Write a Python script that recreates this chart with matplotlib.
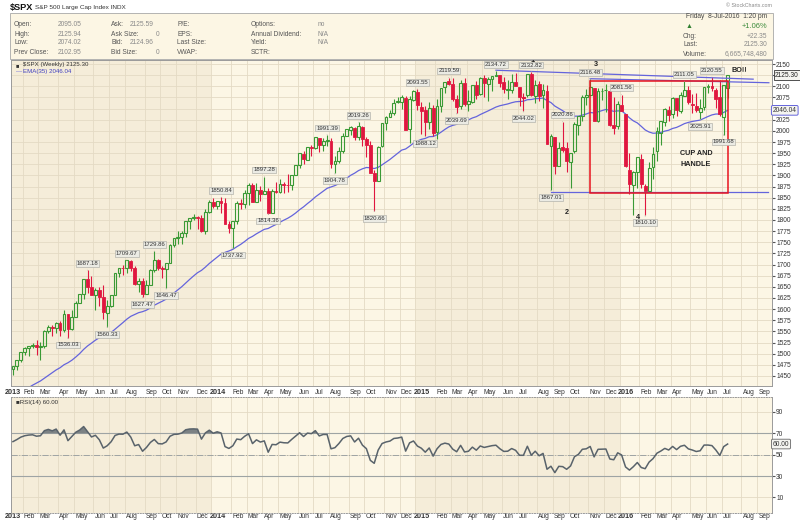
import numpy as np
import pandas as pd
import matplotlib
matplotlib.use("Agg")
import matplotlib.pyplot as plt
import matplotlib.transforms as mtransforms
from matplotlib.patches import Rectangle

plt.rcParams["font.family"] = ["Liberation Sans", "DejaVu Sans"]

# ===============================
# weekly data ($SPX, weeks ending on Friday, 2013-01-11 .. 2016-07-08)
# ===============================
open_2013 = [1466.5, 1472.1, 1486.0, 1503.0, 1513.2, 1517.9, 1519.8, 1515.6, 1518.2, 1551.2,
             1560.7, 1556.9, 1569.2, 1553.3, 1588.9, 1555.3, 1582.2, 1614.4, 1633.7, 1667.5,
             1649.6, 1630.7, 1643.4, 1626.7, 1592.4, 1606.3, 1631.9, 1680.2, 1692.1, 1691.7,
             1708.0, 1691.4, 1655.8, 1663.5, 1633.0, 1655.2, 1688.0, 1709.9, 1691.8, 1690.5,
             1703.2, 1744.5, 1759.8, 1761.6, 1770.6, 1798.2, 1804.8, 1805.8, 1805.1, 1775.3,
             1818.3]
high_2013 = [1472.8, 1486.0, 1503.3, 1514.4, 1518.3, 1524.7, 1530.9, 1525.8, 1552.5, 1563.3,
             1564.1, 1570.3, 1573.7, 1597.4, 1588.9, 1597.6, 1618.5, 1635.0, 1667.5, 1687.18,
             1674.2, 1646.5, 1648.7, 1654.2, 1620.1, 1632.1, 1680.2, 1693.1, 1698.4, 1709.67,
             1709.2, 1696.8, 1669.5, 1669.7, 1664.8, 1690.0, 1729.86, 1711.4, 1696.6, 1703.4,
             1745.3, 1759.8, 1775.2, 1774.5, 1798.2, 1804.8, 1813.6, 1808.4, 1811.5, 1823.8,
             1844.9]
low_2013 = [1451.6, 1463.8, 1482.1, 1496.3, 1495.0, 1513.6, 1497.3, 1485.0, 1513.0, 1547.4,
            1538.6, 1546.2, 1539.5, 1548.6, 1536.03, 1553.6, 1581.3, 1614.4, 1623.7, 1635.5,
            1630.7, 1598.2, 1608.1, 1577.7, 1560.33, 1604.6, 1631.9, 1672.1, 1676.0, 1681.9,
            1684.9, 1654.2, 1639.4, 1627.47, 1633.4, 1655.2, 1684.1, 1687.1, 1670.4, 1646.47,
            1703.2, 1740.5, 1746.5, 1746.2, 1761.6, 1780.7, 1800.4, 1779.1, 1772.3, 1768.0,
            1815.5]
close_2013 = [1472.05, 1485.98, 1502.96, 1513.17, 1517.93, 1519.79, 1515.60, 1518.20, 1551.18, 1560.70,
              1556.89, 1569.19, 1553.28, 1588.85, 1555.25, 1582.24, 1614.42, 1633.70, 1667.47, 1649.60,
              1630.74, 1643.38, 1626.73, 1592.43, 1606.28, 1631.89, 1680.19, 1692.09, 1691.65, 1709.67,
              1691.42, 1655.83, 1663.50, 1632.97, 1655.17, 1687.99, 1709.91, 1691.75, 1690.50, 1703.20,
              1744.50, 1759.77, 1761.64, 1770.61, 1798.18, 1804.76, 1805.81, 1805.09, 1775.32, 1818.32,
              1841.40]

open_2014 = [1841.4, 1831.4, 1842.3, 1838.7, 1790.9, 1782.7, 1798.0, 1838.2, 1836.8, 1859.5,
             1878.5, 1841.1, 1866.5, 1857.7, 1865.1, 1816.3, 1863.9, 1863.6, 1880.0, 1877.9,
             1878.0, 1900.9, 1923.9, 1948.9, 1935.6, 1962.9, 1960.9, 1984.2, 1967.7, 1978.0,
             1978.3, 1926.3, 1932.0, 1955.7, 1989.0, 2002.6, 2007.2, 1986.8, 2009.1, 1981.9,
             1967.7, 1905.7, 1887.3, 1965.0, 2018.2, 2032.1, 2039.7, 2064.0, 2065.8, 2074.8,
             2005.0, 2069.3]
high_2014 = [1849.4, 1843.2, 1850.84, 1849.3, 1798.8, 1798.0, 1841.7, 1847.5, 1867.9, 1883.6,
             1882.4, 1884.0, 1875.9, 1897.28, 1872.5, 1869.6, 1884.9, 1891.3, 1886.0, 1902.2,
             1901.3, 1924.0, 1949.4, 1955.6, 1963.9, 1968.2, 1985.6, 1984.9, 1983.9, 1991.39,
             1984.4, 1942.9, 1964.0, 1994.8, 2005.0, 2011.2, 2008.0, 2019.26, 2010.4, 1985.2,
             1977.8, 1912.1, 1965.3, 2018.2, 2034.3, 2046.2, 2071.5, 2075.8, 2079.5, 2077.9,
             2077.9, 2092.7]
low_2014 = [1827.7, 1823.7, 1815.8, 1790.0, 1770.5, 1737.92, 1791.8, 1824.6, 1828.0, 1834.4,
            1839.6, 1839.5, 1842.1, 1857.6, 1814.36, 1815.7, 1859.7, 1859.8, 1859.8, 1862.4,
            1868.1, 1900.5, 1916.0, 1925.8, 1933.6, 1944.7, 1958.2, 1952.9, 1955.6, 1965.8,
            1916.4, 1904.78, 1928.3, 1951.0, 1988.4, 1990.1, 1980.3, 1978.5, 1966.0, 1941.7,
            1906.1, 1820.66, 1886.8, 1964.0, 2001.0, 2030.2, 2034.5, 2062.0, 2049.6, 2001.5,
            1972.6, 2067.0]
close_2014 = [1831.37, 1842.37, 1838.70, 1790.29, 1782.59, 1797.02, 1838.63, 1836.25, 1859.45, 1878.04,
              1841.13, 1866.52, 1857.62, 1865.09, 1815.69, 1864.85, 1863.40, 1881.14, 1878.48, 1877.86,
              1900.53, 1923.57, 1949.44, 1936.16, 1962.87, 1960.96, 1985.44, 1967.57, 1978.22, 1978.34,
              1925.15, 1931.59, 1955.06, 1988.40, 2003.37, 2007.71, 1985.54, 2010.40, 1982.85, 1967.90,
              1906.13, 1886.76, 1964.58, 2018.05, 2031.92, 2039.82, 2063.50, 2067.56, 2075.37, 2002.33,
              2070.65, 2088.77]

open_2015 = [2087.6, 2054.4, 2046.1, 2020.8, 2050.4, 1996.7, 2055.3, 2097.7, 2110.9, 2105.2,
             2072.3, 2055.4, 2107.0, 2060.0, 2064.9, 2102.6, 2082.0, 2119.3, 2105.9, 2115.6,
             2122.3, 2125.3, 2110.7, 2092.3, 2091.3, 2109.6, 2098.6, 2073.0, 2080.0, 2126.8,
             2078.0, 2104.5, 2080.0, 2089.6, 1965.2, 1986.7, 1921.0, 1963.1, 1960.8, 1930.9,
             1954.3, 2013.4, 2033.5, 2075.4, 2080.8, 2096.6, 2022.4, 2089.4, 2091.0, 2090.4,
             2013.4, 2010.3, 2057.8]
high_2015 = [2093.55, 2064.4, 2056.9, 2064.6, 2057.6, 2072.4, 2097.0, 2110.6, 2119.59, 2117.5,
             2081.4, 2114.9, 2117.5, 2091.0, 2102.6, 2111.9, 2120.9, 2125.9, 2121.0, 2123.9,
             2134.72, 2126.2, 2121.9, 2115.0, 2126.7, 2130.0, 2098.6, 2085.7, 2128.0, 2132.82,
             2114.2, 2112.7, 2105.4, 2102.7, 1993.5, 1986.7, 1975.0, 2020.86, 1974.8, 1951.4,
             2020.1, 2033.5, 2079.7, 2094.3, 2116.48, 2096.6, 2097.1, 2095.6, 2104.3, 2090.4,
             2076.7, 2067.7, 2081.56]
low_2015 = [2046.0, 1992.4, 1988.12, 2004.5, 1989.2, 1980.9, 2041.9, 2085.7, 2103.0, 2067.3,
            2039.69, 2050.1, 2055.2, 2045.5, 2062.0, 2072.0, 2081.2, 2077.0, 2067.9, 2089.2,
            2122.3, 2099.2, 2085.7, 2072.1, 2084.7, 2101.0, 2056.6, 2044.02, 2076.6, 2077.9,
            2063.5, 2067.9, 2052.1, 1970.0, 1867.01, 1903.1, 1921.0, 1953.0, 1908.8, 1871.9,
            1951.4, 1990.7, 2022.3, 2058.8, 2080.8, 2022.0, 2019.4, 2070.3, 2042.4, 2011.0,
            1993.3, 2005.0, 2043.6]
close_2015 = [2058.20, 2044.81, 2019.42, 2051.82, 1994.99, 2055.47, 2096.99, 2110.30, 2104.50, 2071.26,
              2053.40, 2108.10, 2061.02, 2066.96, 2102.06, 2081.18, 2117.69, 2108.29, 2116.10, 2122.73,
              2126.06, 2107.39, 2092.83, 2094.11, 2109.99, 2101.49, 2076.78, 2076.62, 2126.64, 2079.65,
              2103.84, 2077.57, 2091.54, 1970.89, 1988.87, 1921.22, 1961.05, 1958.08, 1931.34, 1951.36,
              2014.89, 2033.11, 2075.15, 2079.36, 2099.20, 2023.04, 2089.17, 2090.11, 2091.69, 2012.37,
              2005.55, 2060.99, 2043.94]

open_2016 = [2038.2, 1911.9, 1878.9, 1906.7, 1936.9, 1877.1, 1866.0, 1917.8, 1954.9, 1996.1,
             2019.6, 2047.9, 2037.9, 2073.2, 2044.7, 2078.8, 2092.3, 2060.4, 2055.2, 2041.9,
             2054.5, 2100.0, 2100.8, 2091.8, 2075.6, 2030.0, 2095.05]
high_2016 = [2038.2, 1950.3, 1908.9, 1940.24, 1947.2, 1881.6, 1930.7, 1962.96, 2009.1, 2022.4,
             2052.4, 2056.6, 2075.1, 2074.0, 2087.8, 2111.05, 2099.9, 2083.4, 2084.9, 2071.9,
             2099.1, 2105.3, 2120.55, 2096.1, 2113.3, 2103.5, 2125.94]
low_2016 = [1918.5, 1857.8, 1812.3, 1872.7, 1872.7, 1810.10, 1864.8, 1891.0, 1931.8, 1969.3,
            2010.1, 2022.1, 2028.9, 2033.8, 2039.7, 2078.8, 2060.6, 2039.5, 2043.1, 2025.91,
            2047.3, 2085.4, 2090.0, 2050.4, 2032.6, 1991.68, 2074.02]
close_2016 = [1922.03, 1880.33, 1906.90, 1940.24, 1880.05, 1864.78, 1917.78, 1948.05, 1999.99, 2022.19,
              2049.58, 2035.94, 2072.78, 2047.60, 2080.73, 2091.58, 2065.30, 2057.14, 2046.61, 2052.32,
              2099.06, 2099.13, 2096.07, 2071.22, 2037.41, 2102.95, 2125.30]

# 2012 weekly closes, only used to warm up EMA / RSI (not drawn)
warmup_close = [1277.81, 1289.09, 1315.38, 1316.33, 1344.90, 1342.64, 1361.23, 1365.74, 1369.63, 1370.87,
                1404.17, 1397.11, 1408.47, 1398.08, 1370.26, 1378.53, 1403.36, 1369.10, 1353.39, 1295.22,
                1317.82, 1278.04, 1325.66, 1342.84, 1335.02, 1362.16, 1354.68, 1356.78, 1362.66, 1385.97,
                1390.99, 1405.87, 1418.16, 1411.13, 1406.58, 1437.92, 1465.77, 1460.15, 1440.67, 1460.93,
                1428.59, 1433.19, 1411.94, 1414.20, 1379.85, 1359.88, 1409.15, 1416.18, 1418.07, 1413.58,
                1430.15, 1402.43, 1466.47]

# labelled swing highs / lows
peak_labels = [1687.18, 1709.67, 1729.86, 1850.84, 1897.28, 1991.39, 2019.26, 2093.55, 2119.59,
               2134.72, 2132.82, 2020.86, 2116.48, 2081.56, 2111.05, 2120.55]
trough_labels = [1536.03, 1560.33, 1627.47, 1646.47, 1737.92, 1814.36, 1904.78, 1820.66, 1988.12,
                 2039.69, 2044.02, 1867.01, 1810.10, 2025.91, 1991.68]

price_ticks = list(range(1450, 2151, 25))
hidden_price_labels = [2125, 2050]   # covered by the last-value boxes
rsi_ticks = [10, 30, 50, 70, 90]

o = np.array(open_2013 + open_2014 + open_2015 + open_2016)
h = np.array(high_2013 + high_2014 + high_2015 + high_2016)
l = np.array(low_2013 + low_2014 + low_2015 + low_2016)
c = np.array(close_2013 + close_2014 + close_2015 + close_2016)
n = len(c)
x = np.arange(n)

# ===============================
# indicators
# ===============================
full = pd.Series(warmup_close + list(c))
ema = full.ewm(span=35, adjust=False).mean().values[-n:]
diff = full.diff()
gain = diff.clip(lower=0).ewm(alpha=1 / 14, adjust=False).mean()
loss = (-diff).clip(lower=0).ewm(alpha=1 / 14, adjust=False).mean()
rsi = (100 - 100 / (1 + gain / loss)).values[-n:]

# ===============================
# colours
# ===============================
BG_DARK = "#f5edd9"
BG_LIGHT = "#fcf6e5"
GRID = "#e4dac4"
GREEN = "#3a9a35"
RED = "#e0163f"
BLUE = "#6464dc"
TXT = "#333333"

W, H = 800, 523
fig = plt.figure(figsize=(W / 100, H / 100), dpi=100)
fig.patch.set_facecolor("white")


def fx(px):
    return px / W


def fy(py):
    return 1 - py / H


ax = fig.add_axes([fx(11), fy(386), fx(772) - fx(11), fy(60) - fy(386)])
ax2 = fig.add_axes([fx(11), fy(513), fx(772) - fx(11), fy(397) - fy(513)])

XMIN, XMAX = -0.5, 193.3
for a in (ax, ax2):
    a.set_xlim(XMIN, XMAX)
    a.set_facecolor(BG_LIGHT)
    for s in a.spines.values():
        s.set_color("#9a9a9a")
        s.set_linewidth(0.7)
ax.set_ylim(1427.5, 2159)
ax2.set_ylim(-4.5, 104)

# ===============================
# month grid / year shading / date labels
# ===============================
all_fri = pd.date_range("2013-01-04", "2016-09-30", freq="W-FRI")
idx_all = np.arange(len(all_fri)) - 1
month_start = [k for k in range(len(all_fri)) if k == 0 or all_fri[k].month != all_fri[k - 1].month]
year_bounds = []
tr = mtransforms.blended_transform_factory(ax.transData, fig.transFigure)
for k in month_start:
    xi = idx_all[k]
    d = all_fri[k]
    for a in (ax, ax2):
        a.axvline(xi - 0.5, color=GRID, lw=0.6, zorder=0)
    if d.month == 1:
        year_bounds.append((xi - 0.5, d.year))
        lab, fw, dx = str(d.year), "bold", -1.0
    else:
        lab, fw, dx = d.strftime("%b"), "normal", -0.2
    for py in (393, 517):
        ax.text(xi + dx, fy(py), lab, transform=tr, fontsize=5.2 if fw == "bold" else 4.8,
                fontweight=fw, color=TXT, ha="left", va="center", clip_on=False)
year_bounds.append((XMAX + 5, 2017))
for (x0, yr), (x1, _) in zip(year_bounds[:-1], year_bounds[1:]):
    if yr % 2 == 1:
        for a in (ax, ax2):
            a.axvspan(max(x0, XMIN - 1), x1, color=BG_DARK, lw=0, zorder=-1)

for p in price_ticks:
    ax.axhline(p, color=GRID, lw=0.6, zorder=0)
for r in rsi_ticks:
    ax2.axhline(r, color=GRID, lw=0.6, zorder=0)

# ===============================
# candles
# ===============================
prev = np.r_[warmup_close[-1], c[:-1]]
col = np.where(c >= prev, GREEN, RED)
body_lo = np.minimum(o, c)
body_hi = np.maximum(o, c)
body_h = np.maximum(body_hi - body_lo, 1.0)
ax.vlines(x, body_hi, h, colors=col, lw=0.8, zorder=3)
ax.vlines(x, l, body_lo, colors=col, lw=0.8, zorder=3)
filled = c < o
ax.bar(x[filled], body_h[filled], bottom=body_lo[filled], width=0.72,
       color=col[filled], edgecolor=col[filled], linewidth=0.6, zorder=4)
ax.bar(x[~filled], body_h[~filled], bottom=body_lo[~filled], width=0.72,
       facecolor="none", edgecolor=col[~filled], linewidth=0.8, zorder=4)

ax.plot(x, ema, color=BLUE, lw=0.9, zorder=2)

# swing labels
bbox_lab = dict(boxstyle="square,pad=0.15", fc="#ebebe4", ec="#b4b4ac", lw=0.5)
for v in peak_labels:
    i = int(np.argmin(np.abs(h - v)))
    ax.annotate(f"{v:.2f}", xy=(i, h[i]), xytext=(0, 3), textcoords="offset points",
                ha="center", va="bottom", fontsize=4.3, color="#333", bbox=bbox_lab,
                arrowprops=dict(arrowstyle="-", color="#b4b4ac", lw=0.5), zorder=6)
for v in trough_labels:
    i = int(np.argmin(np.abs(l - v)))
    ax.annotate(f"{v:.2f}", xy=(i, l[i]), xytext=(0, -3.5), textcoords="offset points",
                ha="center", va="top", fontsize=4.3, color="#333", bbox=bbox_lab,
                arrowprops=dict(arrowstyle="-", color="#b4b4ac", lw=0.5), zorder=6)

# trend lines, pattern box and notes
ax.plot([123, 188.5], [2136.0, 2116.0], color=BLUE, lw=0.9, zorder=5)
ax.plot([147, 192.5], [2117.0, 2108.0], color=BLUE, lw=0.9, zorder=5)
ax.plot([137, 192.3], [1863.0, 1863.0], color=BLUE, lw=0.9, zorder=5)
ax.add_patch(Rectangle((147.0, 1860.0), 182.0 - 147.0, 2112.5 - 1860.0, fill=False,
                       ec="#e8141e", lw=1.1, zorder=5))
note_kw = dict(fontsize=5.2, fontweight="bold", color="#222", zorder=7)
ax.text(132.4, 2158, "1", ha="center", va="center", clip_on=True, **note_kw)
ax.text(141.1, 1815.7, "2", ha="center", va="center", **note_kw)
ax.text(148.5, 2147.8, "3", ha="center", va="center", **note_kw)
ax.text(159.2, 1804.5, "4", ha="center", va="center", **note_kw)
ax.text(169.9, 1950.3, "CUP AND", ha="left", va="center", **note_kw)
ax.text(169.9, 1925.6, "HANDLE", ha="left", va="center", **note_kw)
ax.text(183.1, 2136.5, "BO!!", ha="left", va="center", **note_kw)

# price axis
ax.set_yticks(price_ticks)
ax.set_yticklabels(["" if p in hidden_price_labels else str(p) for p in price_ticks])
ax.yaxis.tick_right()
ax.tick_params(axis="y", labelsize=4.8, length=2, pad=1, colors="#555", labelcolor=TXT)
ax.set_xticks([])
ax.text(1.004, c[-1], f"{c[-1]:.2f}", transform=ax.get_yaxis_transform(), fontsize=4.8,
        ha="left", va="center", color="#222",
        bbox=dict(boxstyle="square,pad=0.2", fc="#f4f4f0", ec="#333", lw=0.6), zorder=8)
ax.text(1.001, ema[-1], f"{ema[-1]:.2f}", transform=ax.get_yaxis_transform(), fontsize=4.8,
        ha="left", va="center", color="#333",
        bbox=dict(boxstyle="round,pad=0.2", fc="#f4f4f0", ec=BLUE, lw=0.7), zorder=8)

# legend text
ax.text(0.006, 0.992, "\u25a0", transform=ax.transAxes, fontsize=4, color="#333", va="top")
ax.text(0.016, 0.993, f"\\$SPX (Weekly) {c[-1]:.2f}", transform=ax.transAxes, fontsize=4.4,
        color="#333", va="top")
ax.text(0.006, 0.972, "\u2014", transform=ax.transAxes, fontsize=4.4, color=BLUE, va="top")
ax.text(0.016, 0.972, f"EMA(35) {ema[-1]:.2f}", transform=ax.transAxes, fontsize=4.4,
        color="#4040c0", va="top")

# ===============================
# RSI panel
# ===============================
ax2.axhline(70, color="#9ea4a4", lw=0.8, zorder=1)
ax2.axhline(30, color="#9ea4a4", lw=0.8, zorder=1)
ax2.axhline(50, color="#9ea4a4", lw=0.7, ls="-.", zorder=1)
ax2.plot(x, rsi, color="#59636b", lw=1.1, zorder=3)
ax2.fill_between(x, rsi, 70, where=rsi > 70, interpolate=True, color="#7c8284", lw=0, zorder=2)
ax2.fill_between(x, rsi, 30, where=rsi < 30, interpolate=True, color="#7c8284", lw=0, zorder=2)
ax2.set_yticks(rsi_ticks)
ax2.yaxis.tick_right()
ax2.tick_params(axis="y", labelsize=4.8, length=2, pad=1, colors="#555", labelcolor=TXT)
ax2.set_xticks([])
for s in ("top", "bottom"):
    ax2.spines[s].set_linestyle(":")
ax2.text(1.001, rsi[-1], f"{rsi[-1]:.2f}", transform=ax2.get_yaxis_transform(), fontsize=4.8,
         ha="left", va="center", color="#333",
         bbox=dict(boxstyle="round,pad=0.2", fc="#f4f4f0", ec="#666", lw=0.6), zorder=8)
ax2.text(0.006, 0.975, f"\u25a0RSI(14) {rsi[-1]:.2f}", transform=ax2.transAxes, fontsize=4.4,
         color="#333", va="top")

# ===============================
# header
# ===============================
fig.patches.append(Rectangle((fx(10), fy(59)), fx(773) - fx(10), fy(13) - fy(59),
                             transform=fig.transFigure, fc="#fcf6e4", ec="#a8a8a8", lw=0.6))
fig.text(fx(10), fy(7.5), "\\$SPX", fontsize=6.6, fontweight="bold", color="#111", va="center")
fig.text(fx(35), fy(8), "S&P 500 Large Cap Index INDX", fontsize=4.6, color="#333", va="center")
fig.text(fx(772), fy(5.5), "\u00a9 StockCharts.com", fontsize=3.8, color="#888", ha="right",
         va="center")

LAB = "#555555"
VAL = "#8a8a8a"
rows = [25, 34, 43, 52]
hdr = [
    (14, "Open:", 58, "2095.05"), (14, "High:", 58, "2125.94"),
    (14, "Low:", 58, "2074.02"), (14, "Prev Close:", 58, "2102.95"),
    (111, "Ask:", 130, "2125.59"), (111, "Ask Size:", 156, "0"),
    (111, "Bid:", 130, "2124.96"), (111, "Bid Size:", 156, "0"),
    (177, "P/E:", None, ""), (177, "EPS:", None, ""),
    (177, "Last Size:", None, ""), (177, "VWAP:", None, ""),
    (251, "Options:", 318, "no"), (251, "Annual Dividend:", 318, "N/A"),
    (251, "Yield:", 318, "N/A"), (251, "SCTR:", None, ""),
]
for k, (x0, t0, x1, t1) in enumerate(hdr):
    yy = fy(rows[k % 4])
    fig.text(fx(x0), yy, t0, fontsize=4.8, color=LAB, va="center")
    if x1 is not None:
        fig.text(fx(x1), yy, t1, fontsize=4.8, color=VAL, va="center")

fig.text(fx(767), fy(17), "Friday  8-Jul-2016  1:20 pm", fontsize=4.8, color="#444",
         ha="right", va="center")
fig.text(fx(689), fy(26), "\u25b2", fontsize=5, color="#2f7f2f", ha="center", va="center")
fig.text(fx(767), fy(26.5), "+1.06%", fontsize=5.4, color="#3a8a3a", ha="right", va="center")
for yy, t0, t1 in [(36, "Chg:", "+22.35"), (45, "Last:", "2125.30"),
                   (54, "Volume:", "6,665,748,480")]:
    fig.text(fx(683), fy(yy), t0, fontsize=4.8, color=LAB, va="center")
    fig.text(fx(767), fy(yy), t1, fontsize=4.8, color=VAL, ha="right", va="center")

fig.savefig("out.png", dpi=100, facecolor="white")
